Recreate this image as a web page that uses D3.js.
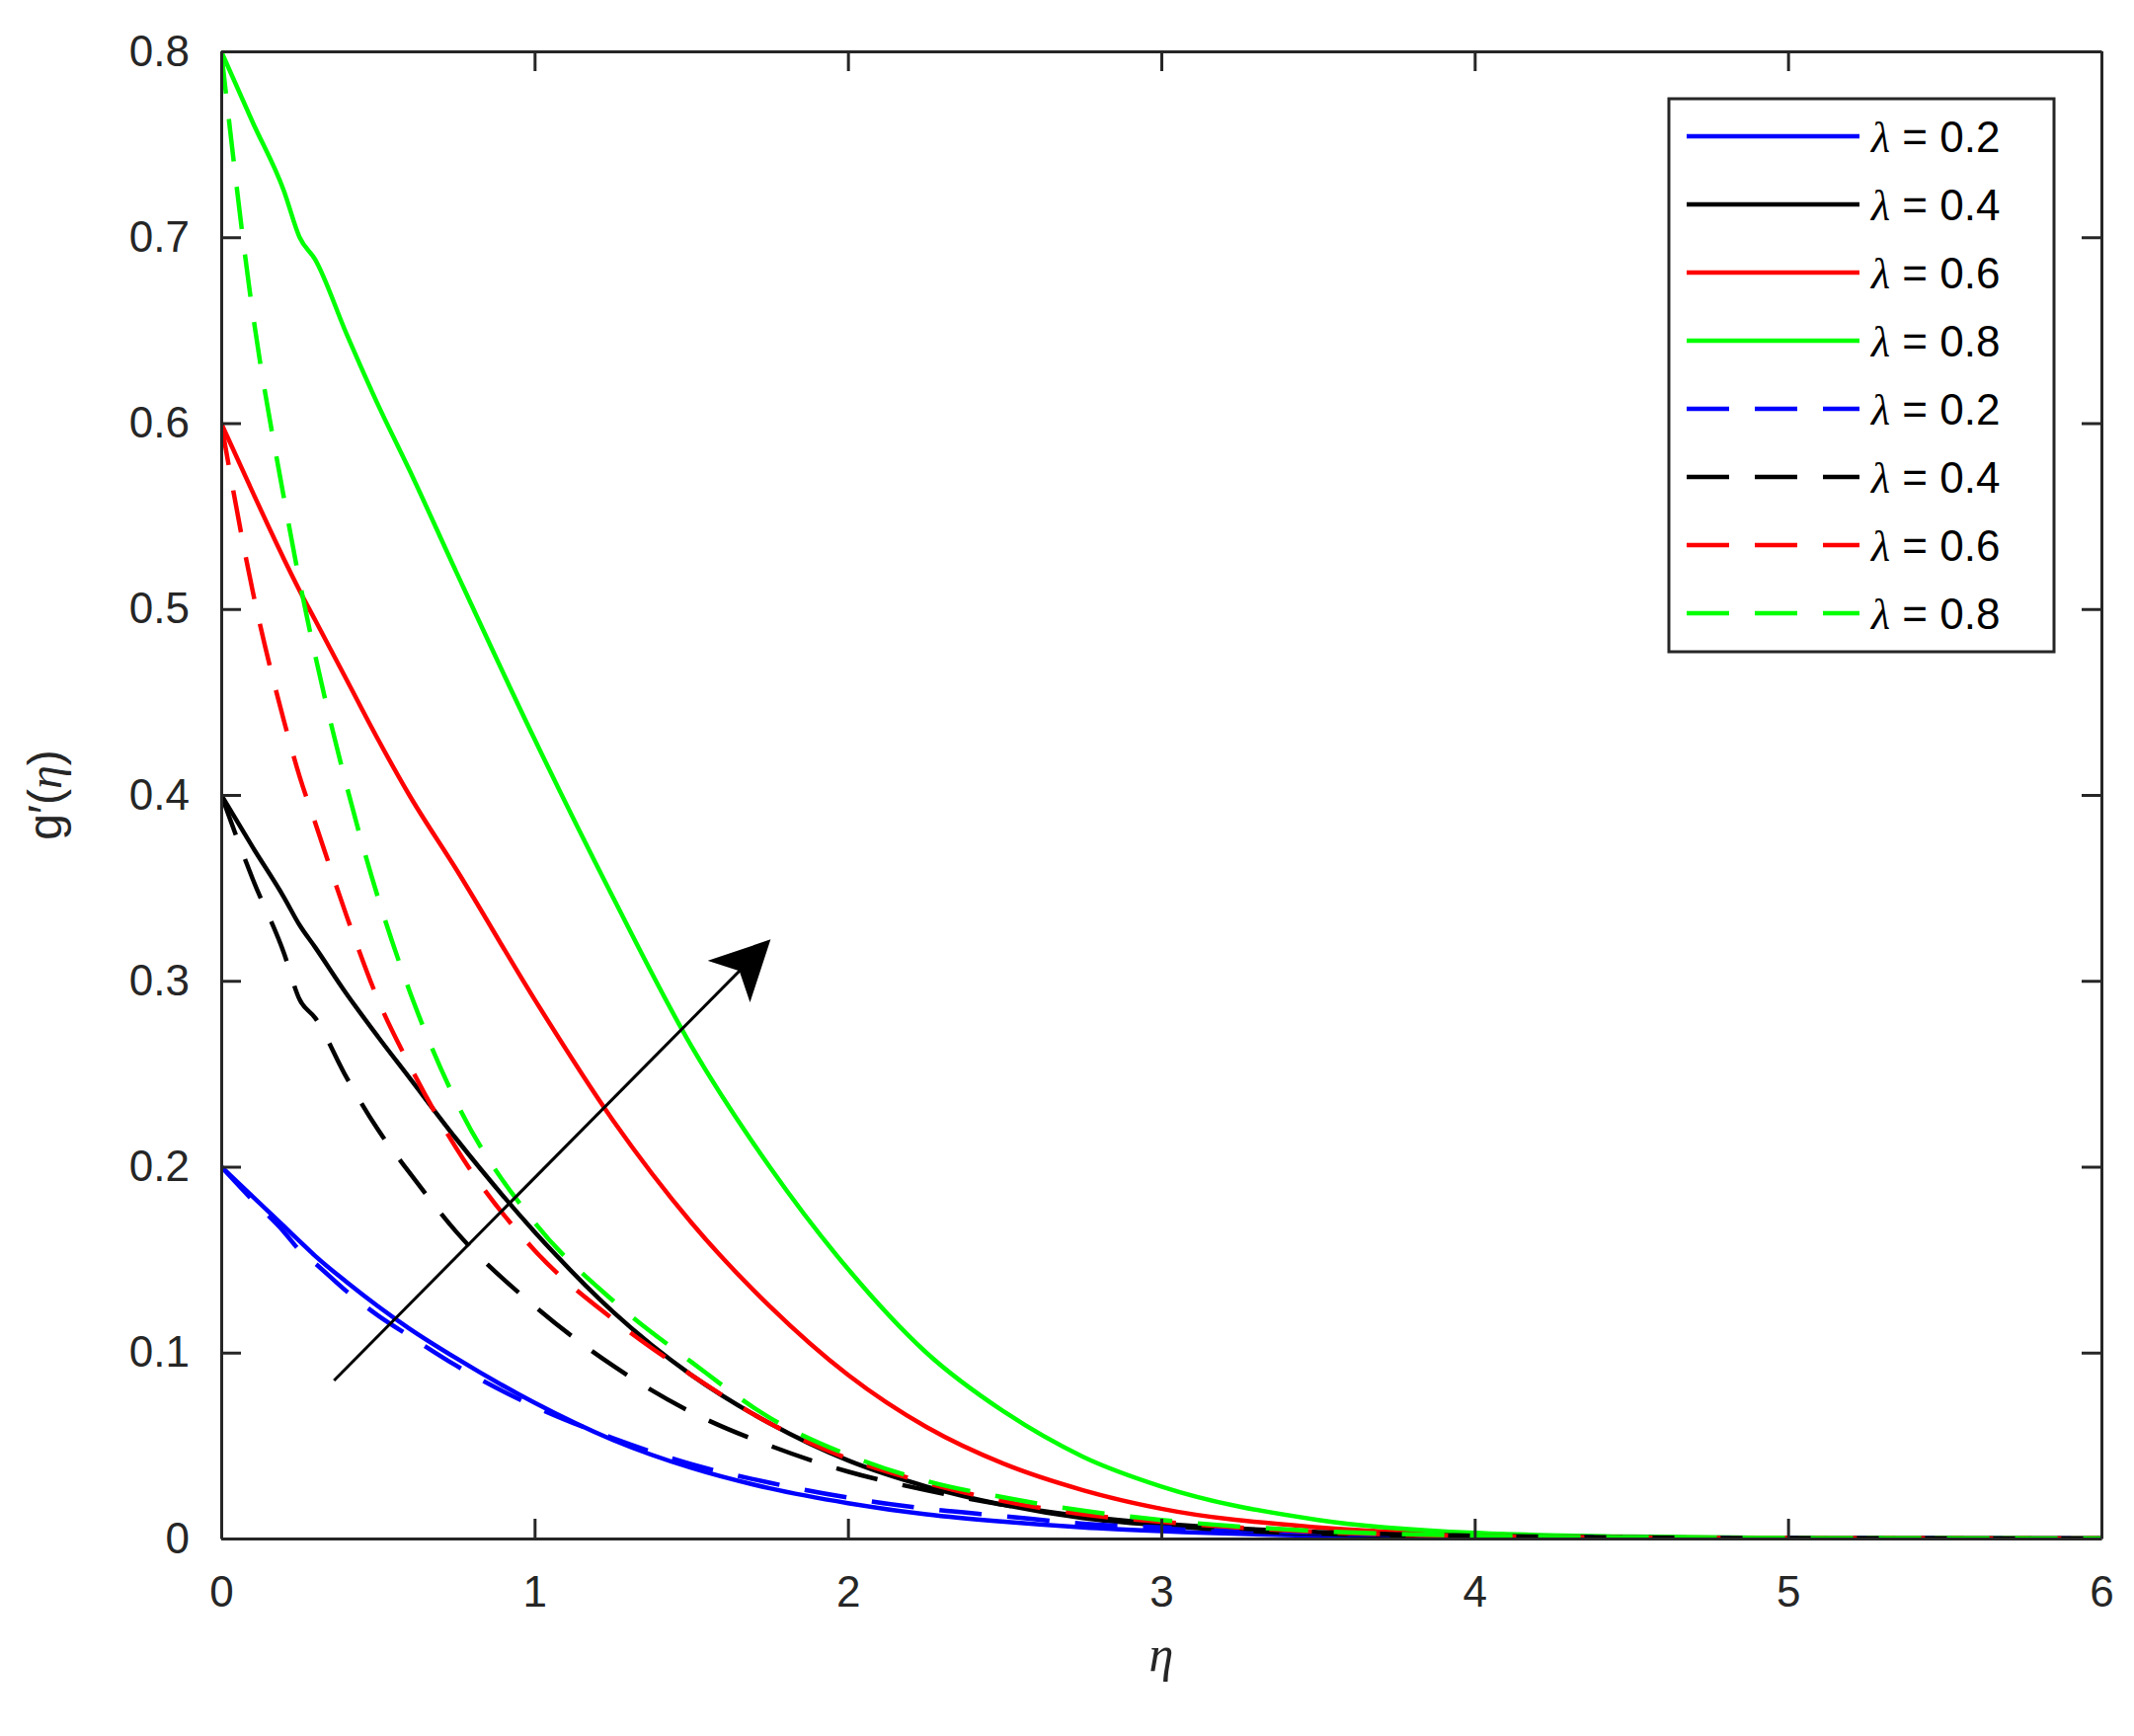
<!DOCTYPE html>
<html><head><meta charset="utf-8">
<script src="https://cdn.jsdelivr.net/npm/d3@7"></script>
<style>body{margin:0;background:#fff}</style>
</head><body>
<svg id="c" width="2161" height="1758"></svg>
<script>
const eta = [0,0.1,0.2,0.25,0.3,0.4,0.5,0.6,0.75,1,1.25,1.5,1.75,2,2.25,2.5,2.75,3,3.5,4,4.5,5,6];
// solid lines
const solid02 = [0.2,0.184,0.168,0.16,0.152,0.138,0.125,0.113,0.097,0.073,0.053,0.038,0.027,0.019,0.013,0.009,0.006,0.004,0.0015,0.0006,0.0002,0.0001,0];
const solid04 = [0.4,0.372,0.345,0.33,0.318,0.293,0.27,0.248,0.215,0.165,0.122,0.088,0.062,0.042,0.028,0.018,0.011,0.007,0.0025,0.001,0.0004,0.0001,0];
const solid06 = [0.6,0.563,0.527,0.51,0.494,0.462,0.43,0.4,0.36,0.29,0.225,0.17,0.125,0.088,0.06,0.04,0.026,0.016,0.006,0.002,0.0007,0.0002,0];
const solid08 = [0.8,0.762,0.725,0.70,0.688,0.648,0.61,0.575,0.52,0.43,0.345,0.265,0.20,0.145,0.10,0.068,0.044,0.028,0.010,0.003,0.001,0.0003,0];
// dashed lines
const dash02 = [0.2,0.182,0.165,0.155,0.148,0.133,0.12,0.109,0.093,0.071,0.054,0.04,0.03,0.022,0.016,0.012,0.008,0.006,0.003,0.0012,0.0005,0.0002,0];
const dash04 = [0.4,0.355,0.315,0.29,0.28,0.248,0.22,0.197,0.165,0.125,0.093,0.068,0.05,0.036,0.026,0.018,0.012,0.008,0.0035,0.0015,0.0006,0.0002,0];
const dash06 = [0.6,0.51,0.44,0.41,0.385,0.335,0.29,0.255,0.21,0.155,0.118,0.088,0.062,0.043,0.03,0.02,0.013,0.009,0.0035,0.0013,0.0005,0.0002,0];
const dash08 = [0.8,0.66,0.56,0.515,0.475,0.405,0.345,0.295,0.235,0.17,0.128,0.095,0.065,0.045,0.031,0.022,0.015,0.01,0.004,0.0015,0.0005,0.0002,0];
const labels = ["λ = 0.2","λ = 0.4","λ = 0.6","λ = 0.8","λ = 0.2","λ = 0.4","λ = 0.6","λ = 0.8"];
const colors = ["#0000ff","#000000","#ff0000","#00ff00","#0000ff","#000000","#ff0000","#00ff00"];
const xTicks = [0,1,2,3,4,5,6];
const yTicks = [0,0.1,0.2,0.3,0.4,0.5,0.6,0.7,0.8];
const arrow = {x0:0.36,y0:0.085,x1:1.74,y1:0.32};

const series = [solid02,solid04,solid06,solid08,dash02,dash04,dash06,dash08].map((v,i)=>({v,label:labels[i],color:colors[i],dashed:i>=4}));
const L=224,R=2128,T=52,B=1558;
const svg=d3.select("#c");
const x=d3.scaleLinear().domain([0,6]).range([L,R]);
const y=d3.scaleLinear().domain([0,0.8]).range([B,T]);
const font="Liberation Sans, Arial, Helvetica, sans-serif";
const ink="#262626";

const clip=svg.append("clipPath").attr("id","cp").append("rect").attr("x",L).attr("y",T-3).attr("width",R-L).attr("height",B-T+3);
const line=d3.line().x((d,i)=>x(eta[i])).y(d=>y(d)).curve(d3.curveMonotoneX);
const g=svg.append("g").attr("clip-path","url(#cp)");
series.forEach(s=>{
  g.append("path").attr("d",line(s.v)).attr("fill","none").attr("stroke",s.color)
   .attr("stroke-width",4.5).attr("stroke-dasharray",s.dashed?"43,26":null);
});

// axes with inward ticks on all sides
function styleAx(sel){sel.select(".domain").attr("stroke",ink).attr("stroke-width",3);
  sel.selectAll(".tick line").attr("stroke",ink).attr("stroke-width",3);
  sel.selectAll("text").attr("fill",ink).attr("font-family",font).attr("font-size",44);}
svg.append("g").attr("transform",`translate(0,${B})`).call(d3.axisBottom(x).tickValues(xTicks).tickFormat(d3.format("d")).tickSizeInner(-20).tickSizeOuter(0).tickPadding(38)).call(styleAx);
svg.append("g").attr("transform",`translate(0,${T})`).call(d3.axisTop(x).tickValues(xTicks).tickFormat("").tickSizeInner(-20).tickSizeOuter(0)).call(styleAx);
svg.append("g").attr("transform",`translate(${L},0)`).call(d3.axisLeft(y).tickValues(yTicks).tickFormat(d=>d===0?"0":d3.format(".1f")(d)).tickSizeInner(-20).tickSizeOuter(0).tickPadding(32)).call(styleAx);
svg.append("g").attr("transform",`translate(${R},0)`).call(d3.axisRight(y).tickValues(yTicks).tickFormat("").tickSizeInner(-20).tickSizeOuter(0)).call(styleAx);

// axis labels
svg.append("text").attr("x",(L+R)/2).attr("y",1692).attr("text-anchor","middle").attr("font-family","Liberation Serif, Times New Roman, serif").attr("font-style","italic").attr("font-size",50).attr("fill",ink).text("η");
const yl=svg.append("text").attr("transform",`translate(62,${(T+B)/2}) rotate(-90)`).attr("text-anchor","middle").attr("font-family",font).attr("font-size",48).attr("fill",ink);
yl.append("tspan").text("g′(");
yl.append("tspan").attr("font-family","Liberation Serif, serif").attr("font-style","italic").text("η");
yl.append("tspan").text(")");

// arrow
svg.append("defs").append("marker").attr("id","ah").attr("viewBox","0 0 20 20").attr("refX",18).attr("refY",10)
  .attr("markerWidth",16).attr("markerHeight",16).attr("markerUnits","userSpaceOnUse").attr("orient","auto")
  .append("path").attr("d","M0,0 L20,10 L0,20 L5,10 Z").attr("fill","#000");
svg.select("#ah").attr("markerWidth",60).attr("markerHeight",60);
svg.append("line").attr("x1",x(arrow.x0)).attr("y1",y(arrow.y0)).attr("x2",x(arrow.x1)).attr("y2",y(arrow.y1))
  .attr("stroke","#000").attr("stroke-width",3).attr("marker-end","url(#ah)");

// legend
const lx=1690,ly=100,lw=390,lh=560,rowH=69;
svg.append("rect").attr("x",lx).attr("y",ly).attr("width",lw).attr("height",lh).attr("fill","#fff").attr("stroke",ink).attr("stroke-width",3);
series.forEach((s,i)=>{
  const cy=ly+38+i*rowH;
  svg.append("line").attr("x1",lx+18).attr("x2",lx+193).attr("y1",cy).attr("y2",cy).attr("stroke",s.color).attr("stroke-width",4.5)
   .attr("stroke-dasharray",s.dashed?"43,26":null);
  const t=svg.append("text").attr("x",lx+205).attr("y",cy+16).attr("font-family",font).attr("font-size",44).attr("fill","#000");
  t.append("tspan").attr("font-family","Liberation Serif, serif").attr("font-style","italic").text("λ");
  t.append("tspan").text(s.label.slice(1));
});
</script>
</body></html>
